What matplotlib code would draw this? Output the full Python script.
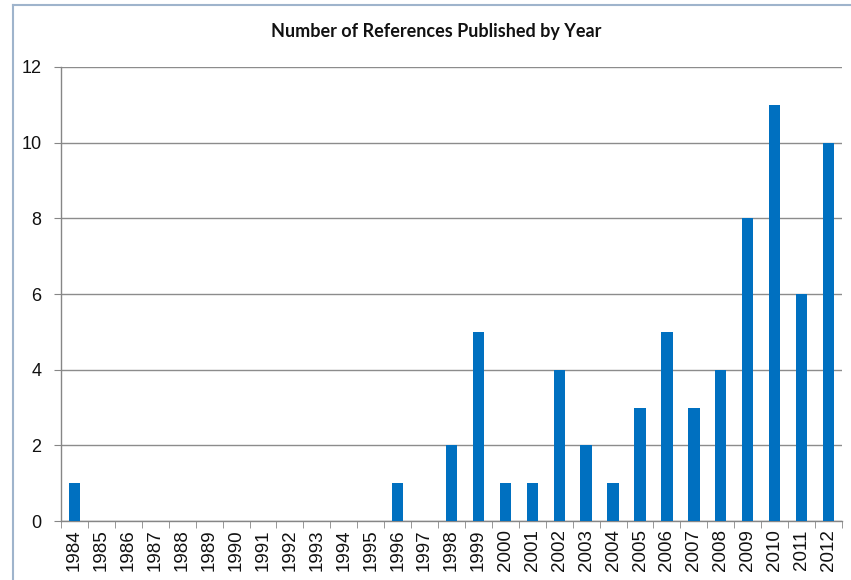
import matplotlib
matplotlib.use('Agg')
import matplotlib.pyplot as plt
from matplotlib.lines import Line2D
import numpy as np

years = [str(y) for y in range(1984, 2013)]
counts = [1, 0, 0, 0, 0, 0, 0, 0, 0, 0, 0, 0, 1, 0, 2, 5, 1, 1, 4, 2,
          1, 3, 5, 3, 4, 8, 11, 6, 10]
y_ticks = [0, 2, 4, 6, 8, 10, 12]

plt.rcParams['font.family'] = ['Liberation Sans', 'DejaVu Sans']

fig = plt.figure(figsize=(8.51, 5.80), dpi=100)
ax = fig.add_axes([0.0717, 0.1017, 0.9177, 0.7828])

x = np.arange(len(years))
ax.bar(x, counts, width=0.42, color='#0070C0', zorder=3)

ax.set_xlim(-0.5, len(years) - 0.5)
ax.set_ylim(0, 12)
ax.set_yticks(y_ticks)
ax.set_yticklabels([str(v) for v in y_ticks], fontsize=13, color='#111111')
ax.set_xticks(x)
ax.set_xticklabels(years, rotation=90, fontsize=13.5, color='#111111')
ax.set_xticks(np.arange(-0.5, len(years)), minor=True)
ax.tick_params(axis='x', which='major', length=0, pad=6)
ax.tick_params(axis='x', which='minor', length=5, color='#868686', direction='out')
ax.tick_params(axis='y', length=5, color='#868686', direction='out', pad=9)

ax.grid(axis='y', color='#8c8c8c', linewidth=1.0, zorder=0)
for side in ['top', 'right']:
    ax.spines[side].set_visible(False)
for side in ['left', 'bottom']:
    ax.spines[side].set_color('#868686')
    ax.spines[side].set_linewidth(1.0)

fig.text(0.512, 0.945, 'Number of References Published by Year',
         ha='center', va='center', fontsize=13, fontweight='bold', color='#111111',
         family=['Lato', 'DejaVu Sans'])

# chart frame (cropped: only left and top edges visible)
fig.add_artist(Line2D([12.5 / 851, 12.5 / 851], [0, 1 - 5 / 580],
                      transform=fig.transFigure, color='#9fb4cc', linewidth=1.5))
fig.add_artist(Line2D([12.5 / 851, 1], [1 - 5 / 580, 1 - 5 / 580],
                      transform=fig.transFigure, color='#9fb4cc', linewidth=1.5))

plt.savefig('out.png', dpi=100)
plt.close()
